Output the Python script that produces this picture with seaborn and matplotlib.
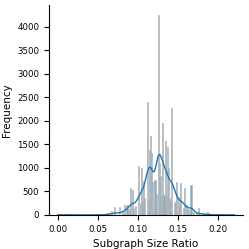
import matplotlib
matplotlib.use("Agg")
import matplotlib.pyplot as plt
import seaborn as sns
import pandas as pd

# subgraph size ratios (bin positions) and how often each occurs
ratio_values = [
    0.0, 0.047, 0.055, 0.0625, 0.0667, 0.0714, 0.0769, 0.080, 0.0833, 0.0857,
    0.0870, 0.0889, 0.0909, 0.0938, 0.0952, 0.0968, 0.100, 0.1026, 0.1042, 0.1053,
    0.1071, 0.1087, 0.1111, 0.1132, 0.1143, 0.1157, 0.1176, 0.1190, 0.1212, 0.1228,
    0.1250, 0.1270, 0.1285, 0.1299, 0.1304, 0.1321, 0.1333, 0.1351, 0.1364, 0.1379,
    0.1395, 0.1408, 0.1429, 0.1446, 0.1471, 0.1481, 0.1500, 0.1522, 0.1538, 0.1556,
    0.1579, 0.1600, 0.1622, 0.1639, 0.1667, 0.1695, 0.1724, 0.1765, 0.1818, 0.1875,
    0.2000, 0.2200,
]
ratio_counts = [
    15, 8, 10, 40, 85, 160, 160, 60, 215, 200,
    80, 120, 570, 540, 150, 180, 1040, 250, 990, 300,
    720, 350, 2400, 300, 1380, 1680, 1310, 700, 750, 450,
    4255, 1100, 820, 400, 1960, 420, 1575, 400, 1450, 990,
    350, 300, 2280, 250, 300, 710, 380, 200, 675, 150,
    570, 200, 120, 100, 630, 60, 40, 140, 30, 57,
    15, 10,
]

df = pd.DataFrame({"ratio": ratio_values, "count": ratio_counts})

fig, ax = plt.subplots(figsize=(2.49, 2.49), dpi=100)
sns.histplot(data=df, x="ratio", weights="count", binwidth=0.0014, binrange=(0, 0.22),
             kde=True, kde_kws={"bw_adjust": 0.33}, line_kws={"linewidth": 1.0},
             edgecolor="0.72", linewidth=0.5, alpha=0.6, ax=ax)
sns.despine()

ax.set_xlabel("Subgraph Size Ratio", fontsize=7.5)
ax.set_ylabel("Frequency", fontsize=7.5)
ax.set_xticks([0.0, 0.05, 0.10, 0.15, 0.20])
ax.tick_params(labelsize=6.2)

fig.subplots_adjust(left=0.197, right=0.976, top=0.98, bottom=0.137)
fig.savefig("out.png", dpi=100)
